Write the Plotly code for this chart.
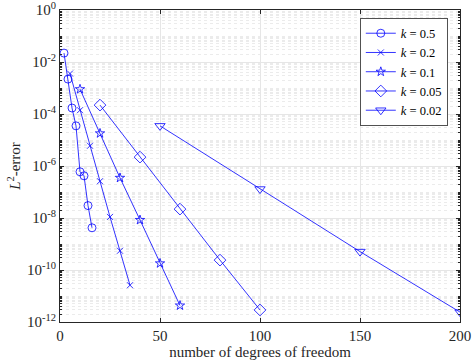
import plotly.graph_objects as go

# k = 0.5
dof_k05 = [2, 4, 6, 8, 10, 12, 14, 16]
err_k05 = [2.2e-2, 2.2e-3, 1.7e-4, 3.5e-5, 6e-7, 4.2e-7, 3e-8, 4.2e-9]
# k = 0.2
dof_k02 = [5, 10, 15, 20, 25, 30, 35]
err_k02 = [3.6e-3, 1.4e-4, 6e-6, 2.6e-7, 1.1e-8, 5.5e-10, 2.6e-11]
# k = 0.1
dof_k01 = [10, 20, 30, 40, 50, 60]
err_k01 = [9e-4, 1.8e-5, 3.5e-7, 8.4e-9, 1.8e-10, 4.3e-12]
# k = 0.05
dof_k005 = [20, 40, 60, 80, 100]
err_k005 = [2.2e-4, 2.2e-6, 2.2e-8, 2.4e-10, 2.9e-12]
# k = 0.02
dof_k002 = [50, 100, 150, 200]
err_k002 = [3.5e-5, 1.3e-7, 5.1e-10, 2.4e-12]

y_tick_vals = [1e0, 1e-2, 1e-4, 1e-6, 1e-8, 1e-10, 1e-12]
y_tick_text = ["10<sup>0</sup>", "10<sup>-2</sup>", "10<sup>-4</sup>",
               "10<sup>-6</sup>", "10<sup>-8</sup>", "10<sup>-10</sup>",
               "10<sup>-12</sup>"]

series = [
    ("0.5", dof_k05, err_k05, "circle-open", 8),
    ("0.2", dof_k02, err_k02, "x-thin-open", 6),
    ("0.1", dof_k01, err_k01, "star-open", 7),
    ("0.05", dof_k005, err_k005, "diamond-open", 9),
    ("0.02", dof_k002, err_k002, "triangle-down-open", 9),
]

SERIF = "Liberation Serif, DejaVu Serif, serif"
BLUE = "#0000ff"

fig = go.Figure()
for k, x, y, sym, size in series:
    fig.add_trace(go.Scatter(
        x=x, y=y, mode="lines+markers",
        name=f"<i>k</i> = {k}",
        line=dict(color=BLUE, width=0.8),
        marker=dict(symbol=sym, size=size, color=BLUE,
                    line=dict(color=BLUE, width=0.8)),
    ))

axis_common = dict(
    showline=True, linecolor="#262626", linewidth=0.8, mirror="ticks",
    ticks="inside", ticklen=4, tickcolor="#262626",
    gridcolor="#e6e6e6", gridwidth=1, zeroline=False, automargin=False,
    ticklabeloverflow="allow",
    tickfont=dict(family=SERIF, size=15, color="#262626"),
)

fig.update_xaxes(
    range=[0, 200], dtick=50,
    title=dict(text="number of degrees of freedom", standoff=2,
               font=dict(family=SERIF, size=15, color="#262626")),
    **axis_common,
)
fig.update_yaxes(
    type="log", range=[-12.0001, 0.0001],
    tickvals=y_tick_vals, ticktext=y_tick_text,
    minor=dict(dtick="D1", showgrid=True, gridcolor="#ebebeb",
               griddash="dot", ticks="inside", ticklen=2,
               tickcolor="#262626"),
    title=dict(text="<i>L</i><sup>2</sup>-error", standoff=2,
               font=dict(family=SERIF, size=15, color="#262626")),
    **axis_common,
)

fig.update_layout(
    width=473, height=364,
    margin=dict(l=60, r=13, t=10, b=42, autoexpand=False),
    plot_bgcolor="white", paper_bgcolor="white",
    showlegend=True,
    legend=dict(
        x=0.97, y=0.975, xanchor="right", yanchor="top",
        bgcolor="white", bordercolor="#262626", borderwidth=0.8,
        font=dict(family=SERIF, size=12.5, color="black"),
        tracegroupgap=0,
    ),
)

# the page's default body margin would shift the figure by 8px
fig.write_html("out.html", config={"displayModeBar": False},
               post_script="document.body.style.margin='0';")
